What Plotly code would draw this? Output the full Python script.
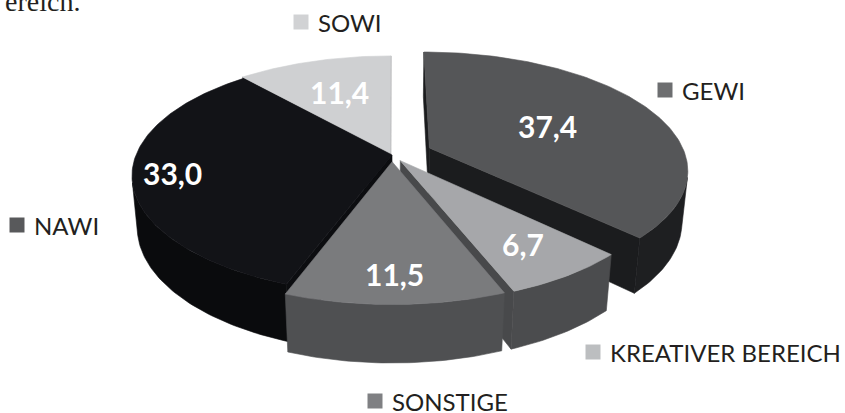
import numpy as np
import plotly.graph_objects as go

# ---------------- data ----------------
categories = ["GEWI", "KREATIVER BEREICH", "SONSTIGE", "NAWI", "SOWI"]
values = [37.4, 6.7, 11.5, 33.0, 11.4]

# ---------------- styles ----------------
top_colors = ["#555658", "#a6a7aa", "#7a7b7d", "#121317", "#cfd0d2"]
wall_colors = ["#1e1f21", "#4b4c4e", "#4f5052", "#0a0b0d", "#9a9b9d"]
cut_colors = ["#1b1c1e", "#48494b", "#4a4b4d", "#0c0d10", "#6e6f71"]
legend_colors = ["#6d6e70", "#bcbec0", "#7f8083", "#58595b", "#d1d2d4"]
explode_px = [41, 15, 15, 0, 4]
label_radius = [0.53, 0.76, 0.82, 0.85, 0.63]
legend_marker_pos = [(665, 90), (593, 352), (375, 401), (17, 225), (301, 22)]

W, Hpx = 845, 413
R = 256.0          # pie radius
THICK = 58.0       # pie thickness
PHI = np.radians(26.7)
DIST = 1306.0
CX, CY = 392.0, 155.0
CAM = np.array([0.0, DIST * np.sin(PHI), DIST * np.cos(PHI)])


def proj(X, Y, Z):
    X = np.asarray(X, float); Y = np.asarray(Y, float); Z = np.asarray(Z, float)
    yv = Y * np.cos(PHI) - Z * np.sin(PHI)
    zv = Y * np.sin(PHI) + Z * np.cos(PHI)
    s = DIST / (DIST - zv)
    return CX + X * s, CY - yv * s


def poly_trace(pts3d, color):
    P = np.array(pts3d)
    x, y = proj(P[:, 0], P[:, 1], P[:, 2])
    x = list(x) + [x[0]]
    y = list(y) + [y[0]]
    return go.Scatter(x=x, y=y, mode="lines", fill="toself", fillcolor=color,
                      line=dict(color=color, width=0.6), hoverinfo="skip",
                      showlegend=False)


total = sum(values)
bounds = np.concatenate([[0], np.cumsum(values)]) / total * 360.0

side_faces = []   # (depth, trace)
top_traces = []
label_pts = []

for i, v in enumerate(values):
    t0, t1 = np.radians(bounds[i]), np.radians(bounds[i + 1])
    tm = 0.5 * (t0 + t1)
    ox, oz = explode_px[i] * np.sin(tm), -explode_px[i] * np.cos(tm)
    n = max(3, int(np.degrees(t1 - t0)))
    th = np.linspace(t0, t1, n + 1)
    rimX = ox + R * np.sin(th)
    rimZ = oz - R * np.cos(th)

    # top face
    top = [(ox, 0, oz)] + [(a, 0, b) for a, b in zip(rimX, rimZ)]
    top_traces.append(poly_trace(top, top_colors[i]))

    # outer wall (visible segments only)
    vis = []
    for k in range(len(th)):
        P = np.array([rimX[k], -THICK / 2, rimZ[k]])
        nrm = np.array([np.sin(th[k]), 0, -np.cos(th[k])])
        vis.append(np.dot(CAM - P, nrm) > 0)
    idx = [k for k in range(len(th)) if vis[k]]
    if len(idx) >= 2:
        ks = list(range(idx[0], idx[-1] + 1))
        up = [(rimX[k], 0, rimZ[k]) for k in ks]
        dn = [(rimX[k], -THICK, rimZ[k]) for k in reversed(ks)]
        cen = np.mean(np.array(up + dn), axis=0)
        side_faces.append((np.linalg.norm(CAM - cen), poly_trace(up + dn, wall_colors[i])))

    # radial cut faces
    for t, sign in ((t0, -1), (t1, 1)):
        ex, ez = ox + R * np.sin(t), oz - R * np.cos(t)
        quad = [(ox, 0, oz), (ex, 0, ez), (ex, -THICK, ez), (ox, -THICK, oz)]
        cen = np.mean(np.array(quad), axis=0)
        nrm = sign * np.array([np.cos(t), 0, np.sin(t)])
        if np.dot(CAM - cen, nrm) > 0:
            side_faces.append((np.linalg.norm(CAM - cen), poly_trace(quad, cut_colors[i])))

    lr = label_radius[i] * R
    lx, ly = proj(ox + lr * np.sin(tm), 0, oz - lr * np.cos(tm))
    label_pts.append((float(lx), float(ly)))

side_faces.sort(key=lambda d: -d[0])

fig = go.Figure()
for _, tr in side_faces:
    fig.add_trace(tr)
for tr in top_traces:
    fig.add_trace(tr)

# legend-like category markers
fig.add_trace(go.Scatter(
    x=[p[0] for p in legend_marker_pos], y=[p[1] for p in legend_marker_pos],
    mode="markers", marker=dict(symbol="square", size=15, color=legend_colors,
                                line=dict(width=0)),
    hoverinfo="skip", showlegend=False))

annotations = []
for i, cat in enumerate(categories):
    mx, my = legend_marker_pos[i]
    annotations.append(dict(x=mx + 15, y=my, xref="x", yref="y", text=cat,
                            showarrow=False, xanchor="left", yanchor="middle",
                            font=dict(family="Lato", size=24, color="#231f20")))
    lx, ly = label_pts[i]
    annotations.append(dict(x=lx, y=ly, xref="x", yref="y",
                            text=f"{values[i]:.1f}".replace(".", ","),
                            showarrow=False, xanchor="center", yanchor="middle",
                            font=dict(family="Lato", size=30, color="white",
                                      weight="bold")))

# clipped text from the surrounding page
annotations.append(dict(x=82, y=1, xref="x", yref="y", text="ereich.",
                        showarrow=False, xanchor="right", yanchor="middle",
                        font=dict(family="Liberation Serif", size=28, color="#231f20")))

fig.update_layout(
    width=W, height=Hpx,
    margin=dict(l=0, r=0, t=0, b=0),
    paper_bgcolor="white", plot_bgcolor="white",
    xaxis=dict(range=[0, W], visible=False, fixedrange=True),
    yaxis=dict(range=[Hpx, 0], visible=False, fixedrange=True),
    annotations=annotations,
    showlegend=False,
)

fig.write_html("out.html", config={"displayModeBar": False, "staticPlot": True},
               post_script="document.body.style.margin='0';document.body.style.overflow='hidden';")
